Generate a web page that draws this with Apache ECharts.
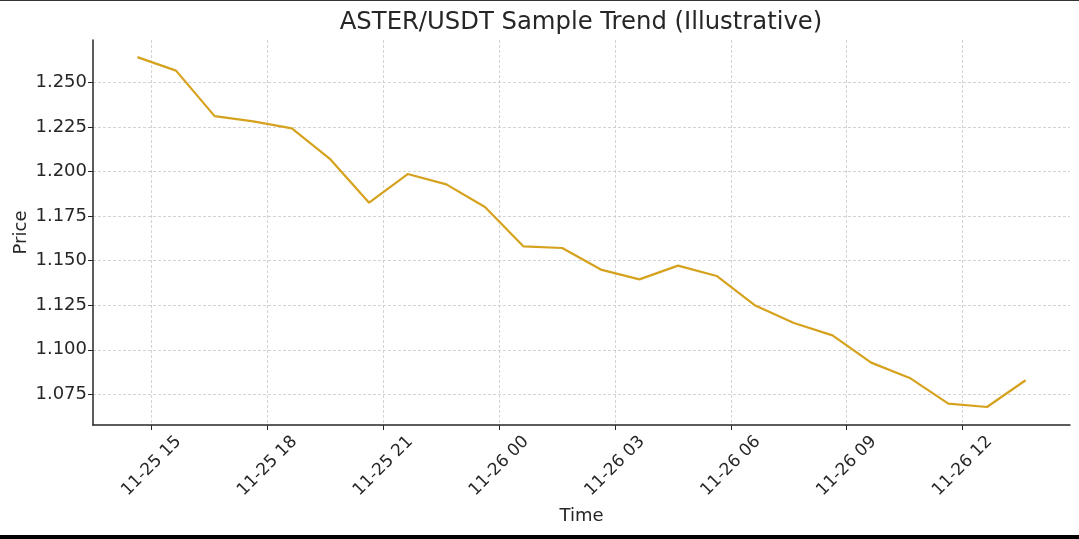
<!DOCTYPE html>
<html>
<head>
<meta charset="utf-8">
<script src="https://cdn.jsdelivr.net/npm/echarts@6/dist/echarts.min.js"></script>
<style>
  html, body { margin: 0; padding: 0; background: #fff; }
  #chart { width: 1079px; height: 539px; }
</style>
</head>
<body>
<div id="chart"></div>
<script>
// hourly samples (UTC)
const times = [
  '2025-11-25T14:38:00Z', '2025-11-25T15:38:00Z', '2025-11-25T16:38:00Z', '2025-11-25T17:38:00Z',
  '2025-11-25T18:38:00Z', '2025-11-25T19:38:00Z', '2025-11-25T20:38:00Z', '2025-11-25T21:38:00Z',
  '2025-11-25T22:38:00Z', '2025-11-25T23:38:00Z', '2025-11-26T00:38:00Z', '2025-11-26T01:38:00Z',
  '2025-11-26T02:38:00Z', '2025-11-26T03:38:00Z', '2025-11-26T04:38:00Z', '2025-11-26T05:38:00Z',
  '2025-11-26T06:38:00Z', '2025-11-26T07:38:00Z', '2025-11-26T08:38:00Z', '2025-11-26T09:38:00Z',
  '2025-11-26T10:38:00Z', '2025-11-26T11:38:00Z', '2025-11-26T12:38:00Z', '2025-11-26T13:38:00Z'
];
const prices = [
  1.2642, 1.2566, 1.2311, 1.2281, 1.2242, 1.2068, 1.1825, 1.1986,
  1.1928, 1.1801, 1.1580, 1.1571, 1.1450, 1.1395, 1.1472, 1.1414,
  1.1248, 1.1150, 1.1081, 1.0928, 1.0842, 1.0698, 1.0679, 1.0829
];
const xTicks = [
  '2025-11-25T15:00:00Z', '2025-11-25T18:00:00Z', '2025-11-25T21:00:00Z', '2025-11-26T00:00:00Z',
  '2025-11-26T03:00:00Z', '2025-11-26T06:00:00Z', '2025-11-26T09:00:00Z', '2025-11-26T12:00:00Z'
];
const yTicks = [1.075, 1.100, 1.125, 1.150, 1.175, 1.200, 1.225, 1.250];

const xMin = '2025-11-25T13:29:00Z';
const xMax = '2025-11-26T14:47:00Z';
const yMin = 1.0578;
const yMax = 1.2738;

const pad = n => String(n).padStart(2, '0');
function fmtTime(v) {
  const d = new Date(v);
  return pad(d.getUTCMonth() + 1) + '-' + pad(d.getUTCDate()) + ' ' + pad(d.getUTCHours());
}

const font = 'DejaVu Sans';
const ink = '#262626';
const gridLine = { show: true, lineStyle: { color: '#c8c8c8', width: 0.8, type: [3, 2] } };
const chart = echarts.init(document.getElementById('chart'));

const option = {
  animation: false,
  title: {
    text: 'ASTER/USDT Sample Trend (Illustrative)',
    left: 576,
    top: 6,
    textAlign: 'center',
    textStyle: { fontFamily: font, fontSize: 24.3, fontWeight: 'normal', color: ink }
  },
  grid: { left: 93, right: 9, top: 40, bottom: 114, containLabel: false, outerBoundsMode: 'none' },
  xAxis: {
    type: 'value',
    min: Date.parse(xMin),
    max: Date.parse(xMax),
    name: 'Time',
    nameLocation: 'middle',
    nameGap: 82,
    nameMoveOverlap: false,
    nameTextStyle: { fontFamily: font, fontSize: 18, color: ink },
    axisLine: { onZero: false, lineStyle: { color: ink, width: 1.5 } },
    axisTick: {
      customValues: xTicks.map(t => Date.parse(t)),
      length: 5,
      lineStyle: { color: ink, width: 1 }
    },
    axisLabel: {
      customValues: xTicks.map(t => Date.parse(t)),
      formatter: fmtTime,
      rotate: 45,
      align: 'center',
      verticalAlign: 'middle',
      margin: 41,
      fontFamily: font,
      fontSize: 17,
      color: ink
    },
    splitLine: gridLine
  },
  yAxis: {
    type: 'value',
    min: yMin,
    max: yMax,
    name: 'Price',
    nameLocation: 'middle',
    nameGap: 63,
    nameMoveOverlap: false,
    nameTextStyle: { fontFamily: font, fontSize: 18, color: ink },
    axisLine: { show: true, lineStyle: { color: ink, width: 1.5 } },
    axisTick: {
      show: true,
      customValues: yTicks,
      length: 5,
      lineStyle: { color: ink, width: 1 }
    },
    axisLabel: {
      customValues: yTicks,
      formatter: v => v.toFixed(3),
      margin: 6,
      fontFamily: font,
      fontSize: 18,
      color: ink
    },
    splitLine: gridLine
  },
  series: [
    {
      type: 'line',
      data: times.map((t, i) => [Date.parse(t), prices[i]]),
      showSymbol: false,
      lineStyle: { color: '#D6A21E', width: 2.2 },
      itemStyle: { color: '#D6A21E' }
    }
  ],
  graphic: [
    { type: 'rect', shape: { x: 0, y: 0, width: 1079, height: 1 }, style: { fill: '#333' } },
    { type: 'rect', shape: { x: 0, y: 535, width: 1079, height: 4 }, style: { fill: '#000' } }
  ]
};

chart.setOption(option);
window.addEventListener('resize', () => chart.resize());
</script>
</body>
</html>
